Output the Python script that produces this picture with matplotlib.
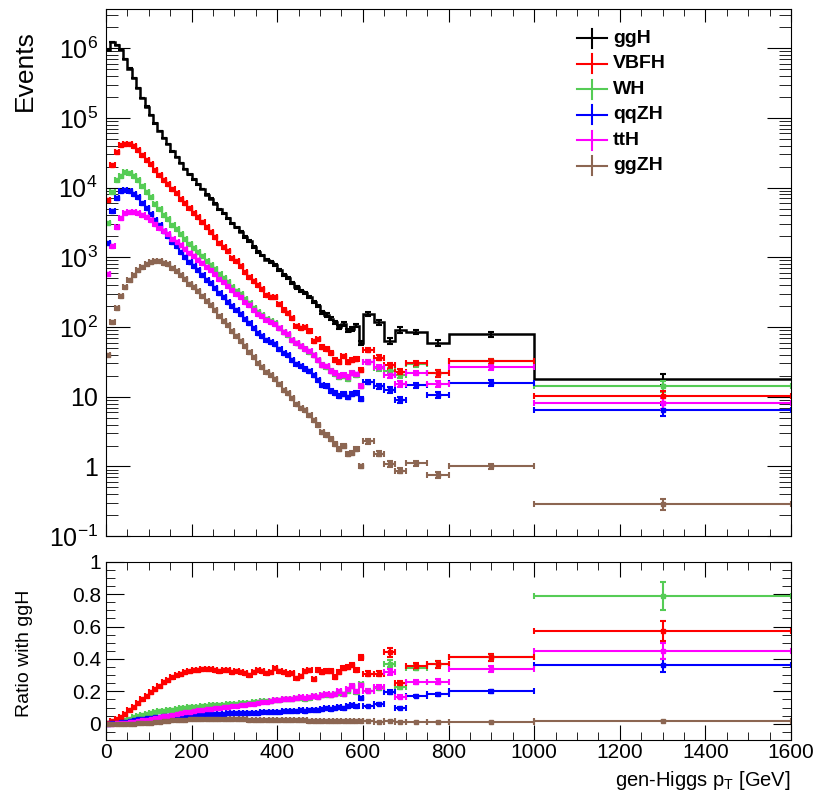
import numpy as np
import matplotlib
matplotlib.use("Agg")
import matplotlib.pyplot as plt
from matplotlib.ticker import MultipleLocator, FixedLocator, LogLocator, NullFormatter

plt.rcParams['font.family'] = ['Liberation Sans', 'DejaVu Sans']
plt.rcParams['mathtext.fontset'] = 'custom'
plt.rcParams['mathtext.rm'] = 'Liberation Sans'
plt.rcParams['mathtext.it'] = 'Liberation Sans:italic'
plt.rcParams['mathtext.bf'] = 'Liberation Sans:bold'

# Binning: 10 GeV up to 600, then wider bins
edges = np.concatenate([np.arange(0, 600, 10), [600, 625, 650, 675, 700, 750, 800, 1000, 1600]])

# ggH events per bin
ggH = np.array([
    9.5e5, 1.23e6, 1.12e6, 9.3e5, 6.9e5, 5.1e5, 3.7e5, 2.7e5, 1.95e5, 1.45e5,
    1.10e5, 8.3e4, 6.5e4, 5.1e4, 4.2e4, 3.3e4, 2.75e4, 2.24e4, 1.86e4, 1.55e4,
    1.32e4, 1.12e4, 9550, 7940, 6920, 5890, 4900, 4260, 3630, 3090,
    2690, 2340, 1950, 1700, 1410, 1200, 1070, 930, 850, 780,
    660, 560, 510, 430, 370, 330, 310, 270, 230, 200,
    162, 150, 132, 117, 100, 110, 89, 93, 105, 59,
    153, 117, 64, 91, 85, 59, 79, 18])

# ratios to ggH
ratio_VBFH = np.array([
    0.007, 0.017, 0.029, 0.044, 0.062, 0.084, 0.105, 0.128, 0.150, 0.172,
    0.195, 0.215, 0.235, 0.255, 0.272, 0.288, 0.300, 0.310, 0.318, 0.325,
    0.330, 0.334, 0.336, 0.338, 0.336, 0.332, 0.328, 0.330, 0.334, 0.318,
    0.326, 0.320, 0.312, 0.304, 0.322, 0.330, 0.326, 0.314, 0.322, 0.342,
    0.326, 0.318, 0.310, 0.312, 0.282, 0.296, 0.324, 0.330, 0.276, 0.334,
    0.318, 0.326, 0.326, 0.290, 0.320, 0.345, 0.352, 0.365, 0.335, 0.410,
    0.31, 0.31, 0.44, 0.253, 0.356, 0.367, 0.41, 0.572])
ratio_WH = np.array([
    0.0033, 0.0071, 0.0115, 0.016, 0.024, 0.032, 0.040, 0.047, 0.054, 0.060,
    0.066, 0.071, 0.076, 0.080, 0.084, 0.088, 0.092, 0.095, 0.098, 0.101,
    0.104, 0.106, 0.108, 0.110, 0.113, 0.115, 0.117, 0.119, 0.120, 0.122,
    0.124, 0.127, 0.128, 0.131, 0.133, 0.136, 0.138, 0.140, 0.142, 0.145,
    0.146, 0.150, 0.152, 0.150, 0.158, 0.160, 0.156, 0.162, 0.170, 0.166,
    0.175, 0.180, 0.176, 0.184, 0.190, 0.182, 0.205, 0.232, 0.196, 0.245,
    0.205, 0.22, 0.37, 0.227, 0.346, 0.367, 0.41, 0.79])
ratio_qqZH = np.array([
    0.0017, 0.0038, 0.0063, 0.0096, 0.0135, 0.0176, 0.022, 0.027, 0.031, 0.035,
    0.038, 0.041, 0.044, 0.046, 0.048, 0.050, 0.052, 0.053, 0.055, 0.056,
    0.057, 0.058, 0.059, 0.060, 0.061, 0.062, 0.062, 0.063, 0.064, 0.064,
    0.065, 0.066, 0.066, 0.067, 0.068, 0.069, 0.070, 0.071, 0.072, 0.074,
    0.074, 0.076, 0.078, 0.079, 0.080, 0.083, 0.082, 0.086, 0.088, 0.087,
    0.090, 0.095, 0.093, 0.098, 0.104, 0.100, 0.110, 0.118, 0.108, 0.160,
    0.108, 0.12, 0.198, 0.099, 0.171, 0.181, 0.20, 0.36])
ratio_ttH = np.array([
    0.0006, 0.0012, 0.0024, 0.0039, 0.0063, 0.0088, 0.012, 0.016, 0.021, 0.026,
    0.031, 0.036, 0.041, 0.046, 0.051, 0.056, 0.061, 0.066, 0.070, 0.075,
    0.079, 0.083, 0.087, 0.090, 0.094, 0.097, 0.100, 0.103, 0.106, 0.109,
    0.112, 0.116, 0.119, 0.122, 0.125, 0.130, 0.133, 0.137, 0.140, 0.144,
    0.146, 0.150, 0.155, 0.152, 0.160, 0.163, 0.158, 0.166, 0.172, 0.168,
    0.176, 0.182, 0.178, 0.186, 0.200, 0.185, 0.215, 0.235, 0.200, 0.240,
    0.205, 0.228, 0.319, 0.167, 0.259, 0.259, 0.336, 0.449])
ratio_ggZH = np.array([
    4.2e-5, 9.5e-5, 1.7e-4, 3.0e-4, 5.4e-4, 9.4e-4, 0.0015, 0.0024, 0.0037, 0.0055,
    0.0078, 0.0105, 0.0135, 0.0165, 0.019, 0.021, 0.023, 0.025, 0.026, 0.027,
    0.028, 0.029, 0.029, 0.030, 0.030, 0.030, 0.029, 0.029, 0.029, 0.028,
    0.028, 0.027, 0.027, 0.026, 0.026, 0.025, 0.025, 0.024, 0.024, 0.023,
    0.023, 0.022, 0.022, 0.022, 0.021, 0.021, 0.021, 0.020, 0.020, 0.020,
    0.019, 0.019, 0.019, 0.018, 0.018, 0.018, 0.017, 0.017, 0.017, 0.017,
    0.015, 0.013, 0.017, 0.0096, 0.013, 0.013, 0.0127, 0.016])

# relative stat. uncertainties per bin
rel_err = np.concatenate([np.repeat([0.004, 0.008, 0.015, 0.025, 0.04, 0.06], 10),
                          [0.07, 0.08, 0.10, 0.09, 0.08, 0.10, 0.09, 0.18]])

centers = (edges[:-1] + edges[1:]) / 2
half = np.diff(edges) / 2

green = '#55cc55'
brown = '#8c6652'
series = [("WH", ratio_WH, green), ("VBFH", ratio_VBFH, 'red'),
          ("qqZH", ratio_qqZH, 'blue'), ("ttH", ratio_ttH, 'magenta'),
          ("ggZH", ratio_ggZH, brown)]

fig = plt.figure(figsize=(8.22, 7.97), dpi=100)
ax1 = fig.add_axes([0.129, 0.3272, 0.8333, 0.6611])
ax2 = fig.add_axes([0.129, 0.0715, 0.8333, 0.2237])

# upper pad
ax1.stairs(ggH, edges, color='black', lw=1.8, baseline=None)
ax1.errorbar(centers, ggH, yerr=ggH * rel_err, fmt='none', ecolor='black',
             elinewidth=1.5, capsize=2, capthick=1.5)
for name, r, c in series:
    vals = ggH * r
    ax1.errorbar(centers, vals, xerr=half, yerr=vals * rel_err, fmt='s', ms=2.5,
                 color=c, elinewidth=1.5, capsize=2, capthick=1.5)
    ax2.errorbar(centers, r, xerr=half, yerr=r * rel_err * 0.6, fmt='s', ms=2.5,
                 color=c, elinewidth=1.5, capsize=2, capthick=1.5)

ax1.set_yscale('log')
ax1.set_xlim(0, 1600)
ax1.set_ylim(0.1, 3.6e6)
decades = [0.1, 1, 10, 1e2, 1e3, 1e4, 1e5, 1e6]
ax1.yaxis.set_major_locator(FixedLocator(decades))
ax1.set_yticklabels(['$10^{-1}$', '1', '10', '$10^{2}$', '$10^{3}$', '$10^{4}$', '$10^{5}$', '$10^{6}$'])
ax1.yaxis.set_minor_locator(LogLocator(base=10, subs=np.arange(2, 10)))
ax1.yaxis.set_minor_formatter(NullFormatter())
ax1.xaxis.set_major_locator(MultipleLocator(200))
ax1.xaxis.set_minor_locator(MultipleLocator(50))
ax1.tick_params(which='both', direction='in', top=True, right=True, labelbottom=False)
ax1.tick_params(axis='y', which='major', length=17, labelsize=18, pad=6)
ax1.tick_params(axis='y', which='minor', length=8.5)
ax1.tick_params(axis='x', which='major', length=9)
ax1.tick_params(axis='x', which='minor', length=5)

# legend drawn by hand
names = ["ggH", "VBFH", "WH", "qqZH", "ttH", "ggZH"]
cols = ['black', 'red', green, 'blue', 'magenta', brown]
for i, (n, c) in enumerate(zip(names, cols)):
    yy = 1 - (38.3 + 25.5 * i - 9.3) / 527
    ax1.plot([0.6876, 0.7314], [yy, yy], color=c, lw=1.5, transform=ax1.transAxes)
    ax1.plot([0.7095, 0.7095], [yy - 0.018, yy + 0.018], color=c, lw=1.5, transform=ax1.transAxes)
    ax1.text(0.740, yy, n, transform=ax1.transAxes, fontsize=14, fontweight='bold',
             va='center', ha='left')

# lower pad
ax2.set_xlim(0, 1600)
ax2.set_ylim(-0.1, 1.0)
ax2.set_yticks([0, 0.2, 0.4, 0.6, 0.8, 1.0], ['0', '0.2', '0.4', '0.6', '0.8', '1'])
ax2.yaxis.set_minor_locator(MultipleLocator(0.05))
ax2.xaxis.set_major_locator(MultipleLocator(200))
ax2.xaxis.set_minor_locator(MultipleLocator(50))
ax2.tick_params(which='both', direction='in', top=True, right=True, labelsize=15)
ax2.tick_params(axis='y', which='major', length=13)
ax2.tick_params(axis='y', which='minor', length=6.5)
ax2.tick_params(axis='x', which='major', length=11, pad=2)
ax2.tick_params(axis='x', which='minor', length=6)

fig.text(0.03, 1 - 30 / 797, 'Events', rotation=90, ha='center', va='top', fontsize=19)
fig.text(0.03, 1 - 653 / 797, 'Ratio with ggH', rotation=90, ha='center', va='center', fontsize=14)
fig.text(791 / 822, 1 - 780 / 797, r'gen-Higgs p$_{\mathregular{T}}$ [GeV]', ha='right',
         va='center', fontsize=14.5)

fig.savefig('out.png', dpi=100)
